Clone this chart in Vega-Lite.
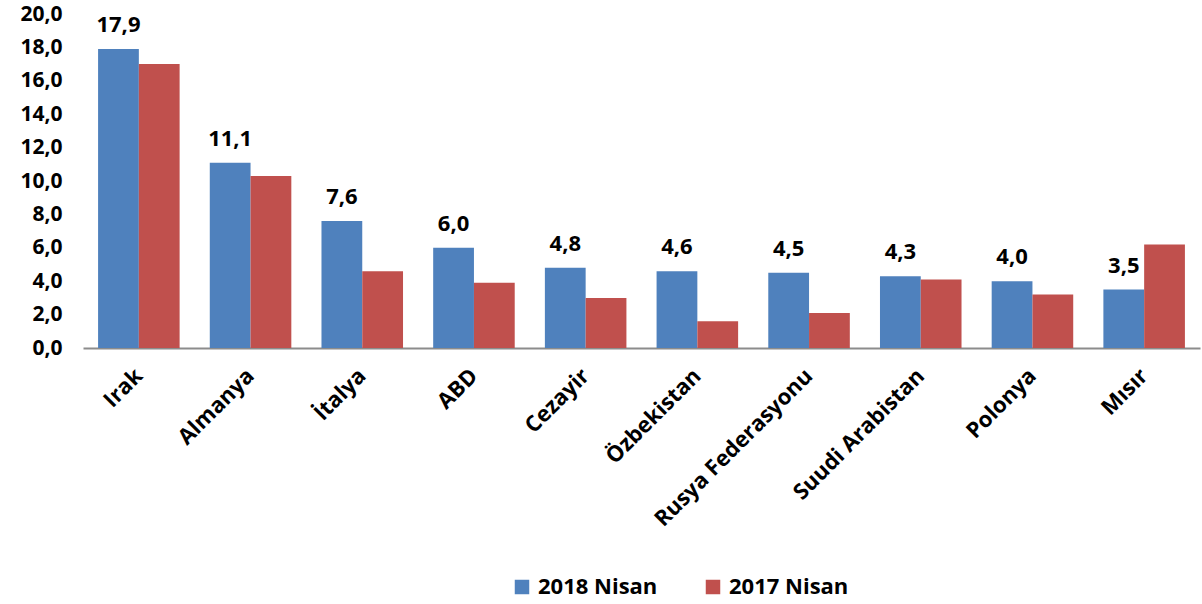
{
  "$schema": "https://vega.github.io/schema/vega-lite/v6.json",
  "autosize": {"type": "none"},
  "width": 1117,
  "height": 334,
  "padding": {"left": 83, "top": 14, "right": 2, "bottom": 256},
  "background": "white",
  "config": {
    "locale": {"number": {"decimal": ",", "thousands": ".", "grouping": [3], "currency": ["", ""]}},
    "view": {"stroke": null},
    "font": "Open Sans"
  },
  "data": {
    "values": [
      {"ulke": "Irak", "donem": "2018 Nisan", "deger": 17.9},
      {"ulke": "Irak", "donem": "2017 Nisan", "deger": 17.0},
      {"ulke": "Almanya", "donem": "2018 Nisan", "deger": 11.1},
      {"ulke": "Almanya", "donem": "2017 Nisan", "deger": 10.3},
      {"ulke": "İtalya", "donem": "2018 Nisan", "deger": 7.6},
      {"ulke": "İtalya", "donem": "2017 Nisan", "deger": 4.6},
      {"ulke": "ABD", "donem": "2018 Nisan", "deger": 6.0},
      {"ulke": "ABD", "donem": "2017 Nisan", "deger": 3.9},
      {"ulke": "Cezayir", "donem": "2018 Nisan", "deger": 4.8},
      {"ulke": "Cezayir", "donem": "2017 Nisan", "deger": 3.0},
      {"ulke": "Özbekistan", "donem": "2018 Nisan", "deger": 4.6},
      {"ulke": "Özbekistan", "donem": "2017 Nisan", "deger": 1.6},
      {"ulke": "Rusya Federasyonu", "donem": "2018 Nisan", "deger": 4.5},
      {"ulke": "Rusya Federasyonu", "donem": "2017 Nisan", "deger": 2.1},
      {"ulke": "Suudi Arabistan", "donem": "2018 Nisan", "deger": 4.3},
      {"ulke": "Suudi Arabistan", "donem": "2017 Nisan", "deger": 4.1},
      {"ulke": "Polonya", "donem": "2018 Nisan", "deger": 4.0},
      {"ulke": "Polonya", "donem": "2017 Nisan", "deger": 3.2},
      {"ulke": "Mısır", "donem": "2018 Nisan", "deger": 3.5},
      {"ulke": "Mısır", "donem": "2017 Nisan", "deger": 6.2}
    ]
  },
  "encoding": {
    "x": {
      "field": "ulke", "type": "nominal", "sort": null,
      "scale": {"paddingInner": 0.27, "paddingOuter": 0.135},
      "axis": {
        "title": null, "ticks": false, "domainColor": "#8c8c8c", "domainWidth": 2,
        "labelAngle": -45, "labelAlign": "right", "labelBaseline": "middle",
        "labelFontSize": 22, "labelFontWeight": "bold", "labelColor": "black",
        "labelPadding": 24, "labelLimit": 400
      }
    },
    "xOffset": {"field": "donem", "type": "nominal", "sort": ["2018 Nisan", "2017 Nisan"]},
    "y": {
      "field": "deger", "type": "quantitative",
      "scale": {"domain": [0, 20]},
      "axis": {
        "title": null, "domain": false, "ticks": false, "grid": false,
        "values": [0, 2, 4, 6, 8, 10, 12, 14, 16, 18, 20], "format": ".1f",
        "labelFontSize": 21, "labelFontWeight": "bold", "labelColor": "black",
        "labelPadding": 21
      }
    }
  },
  "layer": [
    {
      "mark": {"type": "bar"},
      "encoding": {
        "color": {
          "field": "donem", "type": "nominal",
          "sort": ["2018 Nisan", "2017 Nisan"],
          "scale": {"domain": ["2018 Nisan", "2017 Nisan"], "range": ["#4F81BD", "#C0504D"]},
          "legend": {
            "title": null, "orient": "none", "direction": "horizontal",
            "legendX": 428, "legendY": 562,
            "symbolType": "square", "symbolSize": 210, "symbolStrokeWidth": 0,
            "labelFontSize": 22, "labelFontWeight": "bold", "labelColor": "black",
            "columnPadding": 44, "labelOffset": 5
          }
        }
      }
    },
    {
      "transform": [{"filter": "datum.donem === '2018 Nisan'"}],
      "mark": {"type": "text", "baseline": "bottom", "dy": -12, "fontSize": 22, "fontWeight": "bold", "color": "black"},
      "encoding": {
        "text": {"field": "deger", "type": "quantitative", "format": ".1f"}
      }
    }
  ]
}
